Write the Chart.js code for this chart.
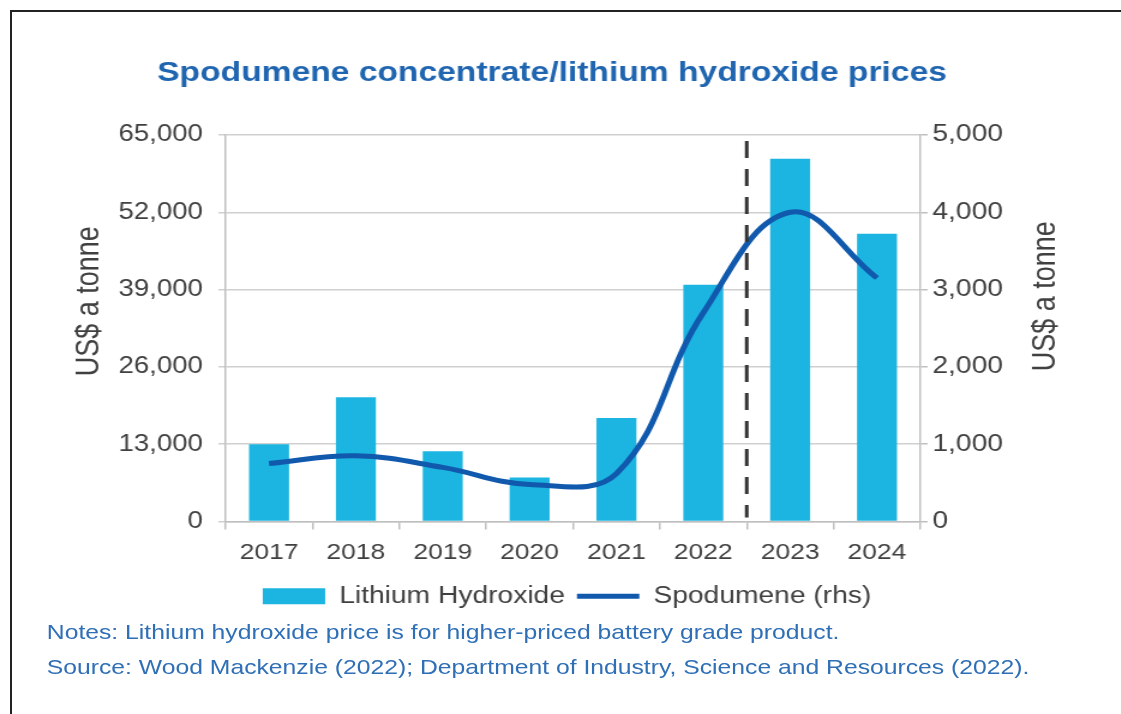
<!DOCTYPE html>
<html>
<head>
<meta charset="utf-8">
<script src="https://cdn.jsdelivr.net/npm/chart.js@4"></script>
<style>
  html, body { margin: 0; padding: 0; background: #fff; overflow: hidden; }
  body { width: 1121px; height: 714px; position: relative; font-family: "Liberation Sans", Arial, sans-serif; }
  #frame { position: absolute; left: 10px; top: 10px; width: 1200px; height: 800px;
           border-left: 2px solid #222; border-top: 2px solid #222; }
  /* the original picture is stretched sideways, so the whole chart is too */
  #stage { position: absolute; left: 0; top: 0; width: 934px; height: 714px;
           transform: scaleX(1.2); transform-origin: 0 0; }
  #box { position: absolute; left: 0; top: 0; width: 934px; height: 714px; }
  .note { position: absolute; left: 39px; font-size: 20.6px; line-height: 22px; color: #2f6fb6; white-space: nowrap; }
</style>
</head>
<body>
<div id="frame"></div>
<div id="stage">
  <div id="box"><canvas id="priceChart"></canvas></div>
  <div class="note" style="top:621px">Notes: Lithium hydroxide price is for higher-priced battery grade product.</div>
  <div class="note" style="top:656px">Source: Wood Mackenzie (2022); Department of Industry, Science and Resources (2022).</div>
</div>
<script>
// Dados
const years = ['2017', '2018', '2019', '2020', '2021', '2022', '2023', '2024'];
const lithiumHydroxide = [13000, 20900, 11800, 7400, 17400, 39800, 61000, 48400];
const spodumene = [750, 850, 700, 480, 620, 2700, 4000, 3150];
const leftTicks = [0, 13000, 26000, 39000, 52000, 65000];
const rightTicks = [0, 1000, 2000, 3000, 4000, 5000];

const chartTitle = 'Spodumene concentrate/lithium hydroxide prices';
const textGrey = '#404040';
const fmt = v => Number(v).toLocaleString('en-US');

// linha tracejada entre 2022 e 2023
const dashedDivider = {
  id: 'dashedDivider',
  afterDatasetsDraw(chart) {
    const x = chart.scales.x.getPixelForValue(5.5);
    const area = chart.chartArea;
    const c = chart.ctx;
    c.save();
    c.strokeStyle = '#333';
    c.lineWidth = 3;
    c.setLineDash([17, 11]);
    c.beginPath();
    c.moveTo(x, area.top + 6);
    c.lineTo(x, area.bottom - 4);
    c.stroke();
    c.restore();
  }
};

// título e títulos dos eixos (ambos lidos de baixo para cima)
const textLayer = {
  id: 'textLayer',
  afterDraw(chart) {
    const c = chart.ctx;
    const area = chart.chartArea;
    const left = chart.scales.y, right = chart.scales.y2;
    const yMid = area.top + (area.bottom - area.top) * 0.43;
    c.save();
    c.textAlign = 'center';
    c.textBaseline = 'middle';
    c.fillStyle = '#1f65b0';
    c.font = 'bold 28px "Liberation Sans"';
    c.fillText(chartTitle, 460, 73);
    c.fillStyle = textGrey;
    c.font = '27px "Liberation Sans"';
    [[left.left + 25, yMid], [right.right - 23, yMid - 5]].forEach(([x, y]) => {
      c.save();
      c.translate(x, y);
      c.rotate(-Math.PI / 2);
      c.fillText('US$ a tonne', 0, 0);
      c.restore();
    });
    c.restore();
  }
};

const ctx = document.getElementById('priceChart').getContext('2d');
const priceChart = new Chart(ctx, {
  data: {
    labels: years,
    datasets: [
      {
        type: 'line',
        label: 'Spodumene (rhs)',
        data: spodumene,
        yAxisID: 'y2',
        borderColor: '#1059ad',
        backgroundColor: '#1059ad',
        borderWidth: 5,
        tension: 0.4,
        pointRadius: 0,
        pointStyle: 'line',
        order: 0
      },
      {
        type: 'bar',
        label: 'Lithium Hydroxide',
        data: lithiumHydroxide,
        yAxisID: 'y',
        backgroundColor: '#1cb4e0',
        categoryPercentage: 1,
        barPercentage: 0.46,
        pointStyle: 'rect',
        order: 1
      }
    ]
  },
  plugins: [dashedDivider, textLayer],
  options: {
    responsive: true,
    maintainAspectRatio: false,
    animation: false,
    devicePixelRatio: 1,
    layout: { padding: { left: 50, right: 39, top: 135, bottom: 96 } },
    plugins: {
      title: { display: false },
      legend: {
        position: 'bottom',
        reverse: true,
        labels: {
          usePointStyle: true,
          pointStyleWidth: 52,
          boxHeight: 16,
          padding: 10,
          color: textGrey,
          font: { family: 'Liberation Sans', size: 23.5 }
        }
      },
      tooltip: { enabled: false }
    },
    scales: {
      x: {
        offset: true,
        afterFit: s => { s.height = 53; },
        grid: { offset: true, drawOnChartArea: false, tickLength: 8, color: '#bfbfbf', lineWidth: 1.5 },
        border: { color: '#bfbfbf', width: 1.5 },
        ticks: { color: textGrey, padding: 10, font: { family: 'Liberation Sans', size: 22 } }
      },
      y: {
        position: 'left',
        min: 0,
        max: 65000,
        afterFit: s => { s.width = 138; },
        afterBuildTicks: s => { s.ticks = leftTicks.map(v => ({ value: v })); },
        grid: { color: '#d0d0d0', lineWidth: 1.5, tickLength: 6 },
        border: { color: '#bfbfbf', width: 1.5 },
        ticks: { color: textGrey, padding: 13, callback: fmt, font: { family: 'Liberation Sans', size: 23 } }
      },
      y2: {
        position: 'right',
        min: 0,
        max: 5000,
        afterFit: s => { s.width = 128; },
        afterBuildTicks: s => { s.ticks = rightTicks.map(v => ({ value: v })); },
        grid: { drawOnChartArea: false, color: '#bfbfbf', lineWidth: 1.5, tickLength: 6 },
        border: { color: '#bfbfbf', width: 1.5 },
        ticks: { color: textGrey, padding: 4, callback: fmt, font: { family: 'Liberation Sans', size: 23.5 } }
      }
    }
  }
});
</script>
</body>
</html>
